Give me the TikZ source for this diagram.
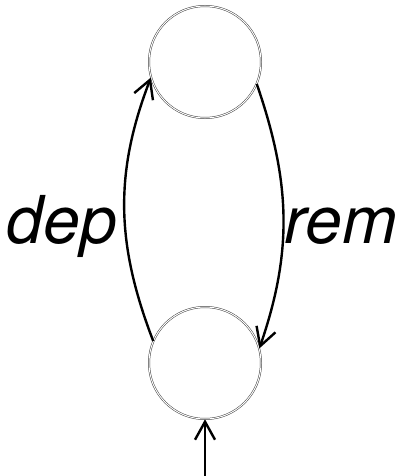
\documentclass[tikz,border=0pt]{standalone}
\usepackage{fontspec}
\setmainfont{TeX Gyre Heros}
\usetikzlibrary{arrows.meta}

\begin{document}
\begin{tikzpicture}[x=1pt,y=-1pt,
 >={Straight Barb[length=18pt,width=20pt,line width=2.4pt]},
 state/.style={circle,draw=black!75,double,line width=.5pt,double distance=1pt,minimum size=112pt,inner sep=0pt},
 edge/.style={->,line width=2.4pt},
 lbl/.style={font=\fontsize{66}{66}\selectfont\itshape,inner sep=0pt}]
\useasboundingbox (0,0) rectangle (409,476);
\node[state] (top) at (205,62) {};
\node[state] (bot) at (205,363) {};
\coordinate (start) at (205,476);
\draw[edge] (bot.157) to[out=111,in=249] (top.196);
\draw[edge] (top.337) to[out=-71,in=71] (bot.15);
\draw[edge] (start)--(bot.south);
\node[lbl,anchor=base] (dep) at (62,243) {dep};
\node[lbl,anchor=base] (rem) at (341,243) {rem};
\end{tikzpicture}
\end{document}
